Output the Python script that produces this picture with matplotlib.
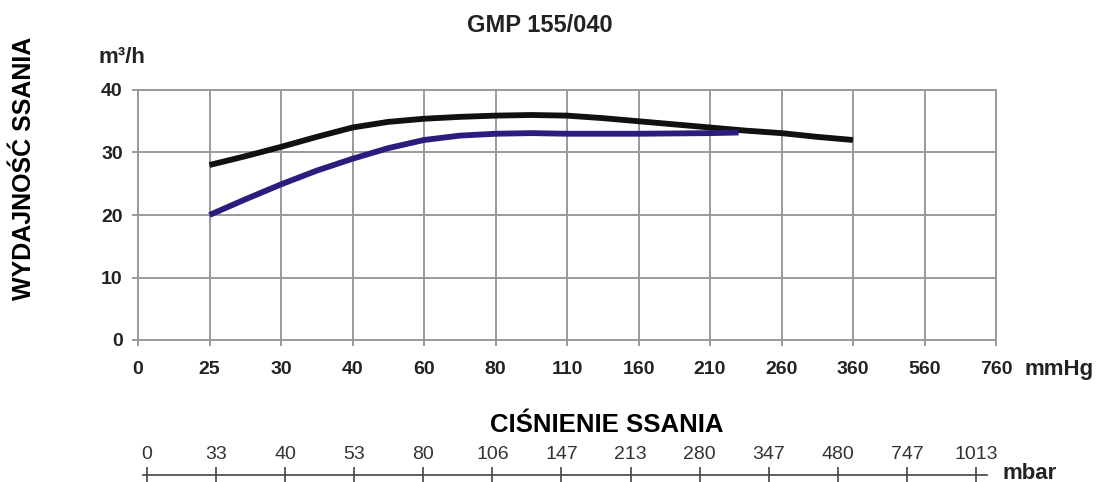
import matplotlib
matplotlib.use('Agg')
from matplotlib import pyplot as plt

plt.rcParams['font.family'] = ['Liberation Sans', 'DejaVu Sans']

# categorical pressure scale (equally spaced)
mmhg_ticks = ['0', '25', '30', '40', '60', '80', '110', '160', '210', '260', '360', '560', '760']
mbar_ticks = ['0', '33', '40', '53', '80', '106', '147', '213', '280', '347', '480', '747', '1013']

# curves, x given as position on the category scale
black_x = [1, 1.5, 2, 2.5, 3, 3.5, 4, 4.5, 5, 5.5, 6, 6.5, 7, 7.5, 8, 8.5, 9, 9.5, 10]
black_y = [28, 29.4, 30.9, 32.5, 34, 34.9, 35.4, 35.7, 35.9, 36.0, 35.9, 35.5, 35.0, 34.5, 34.0, 33.5, 33.1, 32.5, 32]
blue_x = [1, 1.5, 2, 2.5, 3, 3.5, 4, 4.5, 5, 5.5, 6, 7, 8, 8.4]
blue_y = [20, 22.5, 24.9, 27.1, 29.0, 30.7, 32.0, 32.7, 33.0, 33.1, 33.0, 33.0, 33.1, 33.2]

fig = plt.figure(figsize=(10.98, 4.82), dpi=100)
ax = fig.add_axes([138/1098, 1-340/482, (996-138)/1098, 250/482])

ax.plot(black_x, black_y, color='#111111', lw=4.2, solid_capstyle='butt')
ax.plot(blue_x, blue_y, color='#2a1d7e', lw=4.2, solid_capstyle='butt')

ax.set_xlim(0, 12)
ax.set_ylim(0, 40)
ax.set_xticks(range(len(mmhg_ticks)))
ax.set_xticklabels(mmhg_ticks)
ax.set_yticks([0, 10, 20, 30, 40])
ax.grid(True, color='#9a9a9a', lw=1.4)
ax.set_axisbelow(True)
for s in ax.spines.values():
    s.set_color('#9a9a9a')
    s.set_linewidth(1.4)
ax.tick_params(axis='x', length=4, width=1.4, color='#9a9a9a', pad=11, labelsize=14, labelcolor='#222222')
ax.tick_params(axis='y', length=4, width=1.4, color='#9a9a9a', pad=7, labelsize=14, labelcolor='#222222')
for lab in ax.get_xticklabels() + ax.get_yticklabels():
    lab.set_fontweight('bold')

fig.text(540/1098, 1-32/482, 'GMP 155/040', ha='center', va='baseline', fontsize=17, fontweight='bold', color='#222222')
fig.text(98/1098, 1-63/482, 'm³/h', ha='left', va='baseline', fontsize=16, fontweight='bold', color='#222222')
fig.text(24/1098, 1-168/482, 'WYDAJNOŚĆ SSANIA', rotation=90, ha='center', va='center', fontsize=18, fontweight='bold')
fig.text(607/1098, 1-432/482, 'CIŚNIENIE SSANIA', ha='center', va='baseline', fontsize=18.5, fontweight='bold')
fig.text(1025/1098, 1-375/482, 'mmHg', ha='left', va='baseline', fontsize=16, fontweight='bold', color='#222222')
fig.text(1003/1098, 1-479/482, 'mbar', ha='left', va='baseline', fontsize=16, fontweight='bold', color='#222222')

# mbar scale
ax2 = fig.add_axes([143/1098, 1-475/482, (987-143)/1098, 0.001])
ax2.set_xlim(-4/69.08, 12 + 11/69.08)
ax2.set_ylim(0, 1)
ax2.set_xticks(range(len(mbar_ticks)))
ax2.set_xticklabels(mbar_ticks)
ax2.set_yticks([])
for k in ['top', 'left', 'right']:
    ax2.spines[k].set_visible(False)
ax2.spines['bottom'].set_color('#444444')
ax2.spines['bottom'].set_linewidth(1.2)
ax2.tick_params(axis='x', direction='inout', length=11.5, width=1.2, color='#444444',
                bottom=True, top=False, labelbottom=False, labeltop=True, pad=2.5,
                labelsize=14, labelcolor='#333333')

fig.savefig('out.png', dpi=100)
